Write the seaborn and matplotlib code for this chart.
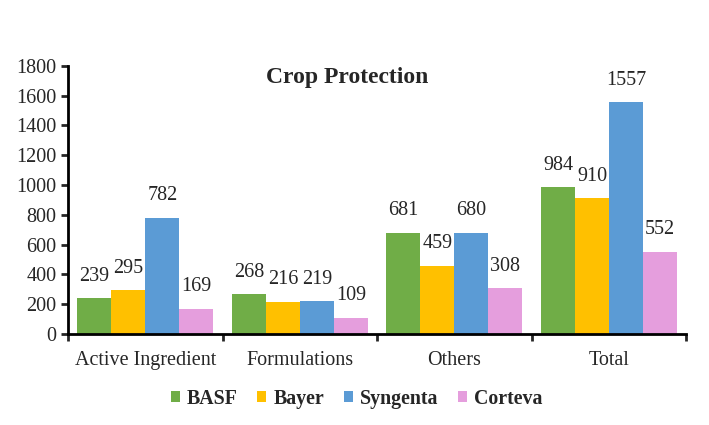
import numpy as np
import pandas as pd
import matplotlib
matplotlib.use('Agg')
import matplotlib.pyplot as plt
import seaborn as sns

categories = ['Active Ingredient', 'Formulations', 'Others', 'Total']
companies = ['BASF', 'Bayer', 'Syngenta', 'Corteva']
basf = [239, 268, 681, 984]
bayer = [295, 216, 459, 910]
syngenta = [782, 219, 680, 1557]
corteva = [169, 109, 308, 552]
colors = ['#70AD47', '#FFC000', '#5B9BD5', '#E59EDD']

df = pd.DataFrame({
    'category': categories * 4,
    'company': np.repeat(companies, 4),
    'value': basf + bayer + syngenta + corteva,
})

sns.set_style('white')
plt.rcParams['font.family'] = ['Liberation Serif', 'DejaVu Serif']

fig = plt.figure(figsize=(7.09, 4.25), dpi=100)
ax = fig.add_axes([0.096, 0.214, 0.872, 0.631])
sns.barplot(data=df, x='category', y='value', hue='company', palette=colors,
            width=0.88, gap=0, linewidth=0, saturation=1, ax=ax)

for c in ax.containers:
    ax.bar_label(c, fmt='%d', padding=9, fontsize=14.5)

ax.set_ylim(0, 1800)
ax.set_yticks(range(0, 1801, 200))
ax.set_xlim(-0.5, 3.5)
ax.set_xlabel('')
ax.set_ylabel('')
ax.tick_params(axis='x', which='major', length=0, labelsize=14.5, pad=12)
ax.set_xticks([-0.5, 0.5, 1.5, 2.5, 3.5], minor=True)
ax.tick_params(axis='x', which='minor', length=5, width=2, direction='out', bottom=True)
ax.tick_params(axis='y', length=5, width=2, direction='out', left=True, labelsize=14.5)
for s in ['top', 'right']:
    ax.spines[s].set_visible(False)
for s in ['left', 'bottom']:
    ax.spines[s].set_linewidth(2)
    ax.spines[s].set_color('black')

ax.text(0.451, 0.955, 'Crop Protection', transform=ax.transAxes, ha='center', va='center',
        fontsize=17, fontweight='bold')

handles, labels = ax.get_legend_handles_labels()
ax.get_legend().remove()
fig.legend(handles, labels, loc='center', bbox_to_anchor=(0.503, 0.062), ncol=4, frameon=False,
           prop={'weight': 'bold', 'size': 14.3}, handlelength=0.45, handleheight=0.45,
           handletextpad=0.35, columnspacing=1.0)

fig.savefig('out.png', dpi=100)
